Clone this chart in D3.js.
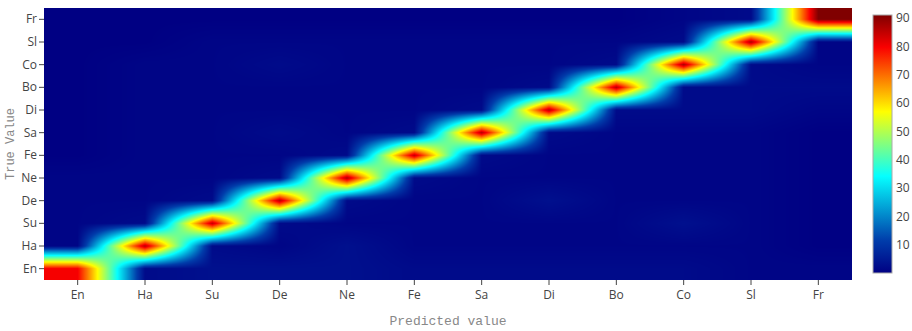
<!DOCTYPE html>
<html>
<head>
<meta charset="utf-8">
<script src="https://cdn.jsdelivr.net/npm/d3@7"></script>
<style>
  body { margin: 0; background: #fff; }
  svg { display: block; }
</style>
</head>
<body>
<div id="chart"></div>
<script>
// categories, bottom row / left column first
var labels = ["En", "Ha", "Su", "De", "Ne", "Fe", "Sa", "Di", "Bo", "Co", "Sl", "Fr"];

// one array per true value (row), each entry = predicted value column
var rowEn = [80, 2, 3, 3, 3, 2, 2, 2, 2, 2, 1, 1];
var rowHa = [1, 86, 2, 1, 3, 1, 1, 1, 1, 1, 1, 0];
var rowSu = [1, 2, 85, 2, 1, 1, 1, 1, 1, 3, 1, 0];
var rowDe = [1, 1, 2, 86, 2, 1, 1, 3, 1, 1, 1, 0];
var rowNe = [1, 1, 1, 2, 87, 2, 1, 1, 1, 1, 1, 0];
var rowFe = [0, 1, 1, 1, 2, 85, 2, 1, 1, 1, 1, 0];
var rowSa = [0, 1, 1, 2, 1, 2, 86, 2, 1, 1, 1, 0];
var rowDi = [0, 1, 1, 1, 1, 1, 2, 86, 2, 2, 2, 1];
var rowBo = [0, 1, 1, 1, 1, 1, 1, 2, 86, 2, 2, 2];
var rowCo = [0, 1, 1, 2, 1, 1, 1, 1, 2, 87, 2, 1];
var rowSl = [0, 0, 1, 1, 1, 1, 1, 1, 1, 2, 87, 1];
var rowFr = [0, 0, 0, 0, 0, 0, 0, 0, 0, 1, 2, 91];
var z = [rowEn, rowHa, rowSu, rowDe, rowNe, rowFe, rowSa, rowDi, rowBo, rowCo, rowSl, rowFr];

var cbTicks = [10, 20, 30, 40, 50, 60, 70, 80, 90];

var W = 912, H = 331;
var margin = {top: 8, right: 60, bottom: 51, left: 44},
    width = 852 - margin.left,
    height = 280 - margin.top;

var zmin = d3.min(z, function(r) { return d3.min(r); }),
    zmax = d3.max(z, function(r) { return d3.max(r); });

// plotly "Jet"
var jetStops = [0, 0.125, 0.375, 0.625, 0.875, 1];
var jetColors = ["rgb(0,0,131)", "rgb(0,60,170)", "rgb(5,255,255)", "rgb(255,255,0)", "rgb(250,0,0)", "rgb(128,0,0)"];
var color = d3.scaleLinear()
    .domain(jetStops.map(function(t) { return zmin + t * (zmax - zmin); }))
    .range(jetColors)
    .clamp(true);

var x = d3.scaleBand().domain(labels).range([0, width]).padding(0);
var y = d3.scaleBand().domain(labels).range([height, 0]).padding(0);

// index space scales for the smoothed image
var xi = d3.scaleLinear().domain([-0.5, labels.length - 0.5]).range([0, width]);
var yi = d3.scaleLinear().domain([-0.5, labels.length - 0.5]).range([height, 0]);

var svg = d3.select("#chart").append("svg")
    .attr("width", W)
    .attr("height", H);

var g = svg.append("g")
    .attr("transform", "translate(" + margin.left + "," + margin.top + ")");

// bilinear interpolation, clamped at the outer cell centres
var n = labels.length;
var canvas = document.createElement("canvas");
canvas.width = width; canvas.height = height;
var ctx = canvas.getContext("2d");
var img = ctx.createImageData(width, height);
for (var py = 0; py < height; py++) {
  var fy = Math.max(0, Math.min(n - 1, yi.invert(py + 0.5)));
  var r0 = Math.floor(fy), r1 = Math.min(n - 1, r0 + 1), ty = fy - r0;
  for (var px = 0; px < width; px++) {
    var fx = Math.max(0, Math.min(n - 1, xi.invert(px + 0.5)));
    var c0 = Math.floor(fx), c1 = Math.min(n - 1, c0 + 1), tx = fx - c0;
    var v = (z[r0][c0] * (1 - tx) + z[r0][c1] * tx) * (1 - ty) +
            (z[r1][c0] * (1 - tx) + z[r1][c1] * tx) * ty;
    var c = d3.rgb(color(v));
    var k = (py * width + px) * 4;
    img.data[k] = c.r; img.data[k + 1] = c.g; img.data[k + 2] = c.b; img.data[k + 3] = 255;
  }
}
ctx.putImageData(img, 0, 0);

g.append("image")
    .attr("width", width)
    .attr("height", height)
    .attr("preserveAspectRatio", "none")
    .attr("href", canvas.toDataURL());

// axes
var xAxis = g.append("g")
    .attr("transform", "translate(0," + height + ")")
    .call(d3.axisBottom(x).tickSize(5).tickPadding(5));
var yAxis = g.append("g")
    .call(d3.axisLeft(y).tickSize(5).tickPadding(2));

[xAxis, yAxis].forEach(function(a) {
  a.select(".domain").remove();
  a.selectAll("line").attr("stroke", "#444");
  a.selectAll("text")
    .attr("fill", "#444")
    .style("font-family", "'Open Sans', sans-serif")
    .style("font-size", "12px");
});

// axis titles
svg.append("text")
    .attr("x", margin.left + width / 2)
    .attr("y", 325)
    .attr("text-anchor", "middle")
    .style("font-family", "'Liberation Mono', 'Courier New', monospace")
    .style("font-size", "13px")
    .attr("fill", "#888")
    .text("Predicted value");

svg.append("text")
    .attr("transform", "translate(14," + (margin.top + height / 2) + ") rotate(-90)")
    .attr("text-anchor", "middle")
    .style("font-family", "'Liberation Mono', 'Courier New', monospace")
    .style("font-size", "12px")
    .attr("fill", "#888")
    .text("True Value");

// colorbar
var cbX = 873, cbW = 19, cbTop = 15, cbBottom = 273;
var cy = d3.scaleLinear().domain([zmin, zmax]).range([cbBottom, cbTop]);

var defs = svg.append("defs");
var grad = defs.append("linearGradient")
    .attr("id", "jet")
    .attr("x1", 0).attr("y1", 1).attr("x2", 0).attr("y2", 0);
grad.selectAll("stop")
    .data(jetStops)
    .enter().append("stop")
    .attr("offset", function(d) { return d; })
    .attr("stop-color", function(d, i) { return jetColors[i]; });

svg.append("rect")
    .attr("x", cbX)
    .attr("y", cbTop)
    .attr("width", cbW)
    .attr("height", cbBottom - cbTop)
    .attr("fill", "url(#jet)")
    .attr("stroke", "#aaa")
    .attr("stroke-width", 1);

var cbAxis = svg.append("g")
    .attr("transform", "translate(" + (cbX + cbW) + ",0)")
    .call(d3.axisRight(cy).tickValues(cbTicks).tickSize(0).tickPadding(4));
cbAxis.select(".domain").remove();
cbAxis.selectAll("text")
    .attr("fill", "#444")
    .style("font-family", "'Open Sans', sans-serif")
    .style("font-size", "12px");
</script>
</body>
</html>
